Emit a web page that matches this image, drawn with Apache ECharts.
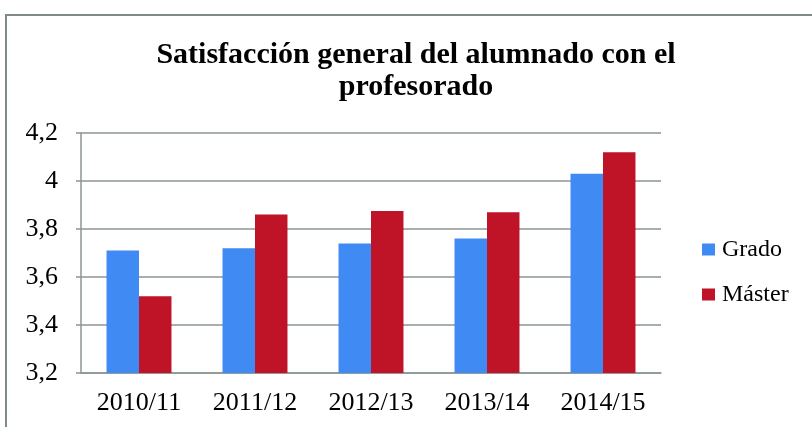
<!DOCTYPE html>
<html>
<head>
<meta charset="utf-8">
<script src="https://cdn.jsdelivr.net/npm/echarts@6/dist/echarts.min.js"></script>
<style>
html,body{margin:0;padding:0;background:#fff;}
#chart{width:812px;height:427px;}
</style>
</head>
<body>
<div id="chart"></div>
<script>
const categories = ['2010/11', '2011/12', '2012/13', '2013/14', '2014/15'];
const grado = [3.71, 3.72, 3.74, 3.76, 4.03];
const master = [3.52, 3.86, 3.875, 3.87, 4.12];
const seriesNames = ['Grado', 'Máster'];
const titleText = 'Satisfacción general del alumnado con el\nprofesorado';

const FONT = '"Liberation Serif", "DejaVu Serif", serif';
const GRID = '#8a9694';

const chart = echarts.init(document.getElementById('chart'), null, {renderer: 'canvas'});
chart.setOption({
  animation: false,
  backgroundColor: '#ffffff',
  graphic: [{
    type: 'rect',
    shape: {x: 6, y: 15, width: 900, height: 600},
    style: {fill: 'none', stroke: '#7f8b89', lineWidth: 2},
    silent: true
  }],
  title: {
    text: titleText,
    left: 416,
    textAlign: 'center',
    top: 39,
    padding: 0,
    textStyle: {
      fontFamily: FONT,
      fontWeight: 'bold',
      fontSize: 30,
      lineHeight: 32,
      color: '#000'
    }
  },
  legend: {
    orient: 'vertical',
    left: 702,
    top: 236,
    padding: 0,
    itemWidth: 13,
    itemHeight: 12,
    itemGap: 18,
    itemStyle: {borderWidth: 0},
    icon: 'rect',
    data: seriesNames,
    textStyle: {fontFamily: FONT, fontSize: 24, lineHeight: 27, color: '#000', padding: [0, 0, 0, 2]}
  },
  grid: {left: 81, right: 151, top: 133, bottom: 54, containLabel: false},
  xAxis: {
    type: 'category',
    data: categories,
    axisLine: {show: true, lineStyle: {color: GRID, width: 1.5}},
    axisTick: {show: false},
    axisLabel: {fontFamily: FONT, fontSize: 26, color: '#000', margin: 17}
  },
  yAxis: {
    type: 'value',
    min: 3.2,
    max: 4.2,
    interval: 0.2,
    axisLine: {show: true, lineStyle: {color: GRID, width: 1.5}},
    axisTick: {show: true, length: 5, lineStyle: {color: GRID, width: 1.5}},
    splitLine: {show: true, lineStyle: {color: GRID, width: 1.5}},
    axisLabel: {
      fontFamily: FONT, fontSize: 26, color: '#000', margin: 23,
      formatter: function (v) { return String(Number(v.toFixed(1))).replace('.', ','); }
    }
  },
  series: [
    {
      name: seriesNames[0], type: 'bar', data: grado,
      barGap: '0%', barCategoryGap: '44%',
      itemStyle: {color: '#3f8af3'}
    },
    {
      name: seriesNames[1], type: 'bar', data: master,
      barGap: '0%', barCategoryGap: '44%',
      itemStyle: {color: '#bf1328'}
    }
  ]
});
</script>
</body>
</html>
